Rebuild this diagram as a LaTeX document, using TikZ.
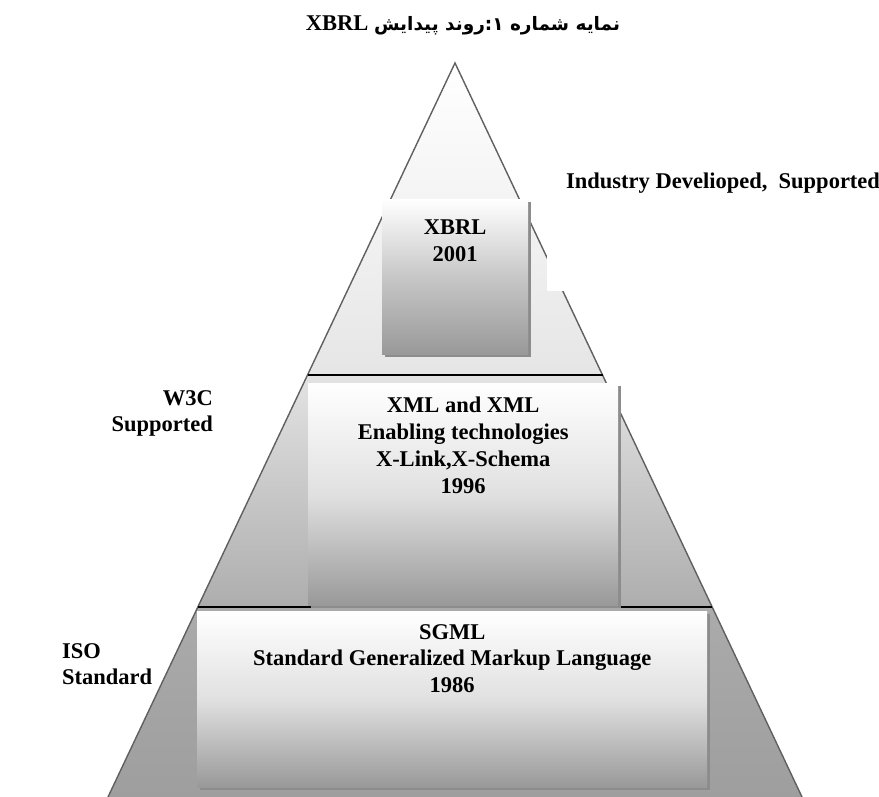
\documentclass[tikz,border=0pt]{standalone}
\usepackage{fontspec}
\setmainfont{Liberation Serif}
\newfontfamily\arabicfont[Script=Arabic]{DejaVu Sans}
\TeXXeTstate=1
\usetikzlibrary{shadows}
\definecolor{edgegray}{HTML}{606060}
\definecolor{shadowgray}{HTML}{8C8C8C}
\tikzset{
  lbl/.style={inner sep=0pt, font=\fontsize{22.5}{26.8}\selectfont\bfseries},
  edge/.style={draw=edgegray, line width=1.4pt, line join=miter},
  rule/.style={draw=black, line width=1.5pt},
  panel/.style={draw=none, inner sep=0pt, anchor=north west,
    top color=white, bottom color=black!40, middle color=black!12,
    drop shadow={shadow xshift=3pt, shadow yshift=-3pt, fill=shadowgray, opacity=1}},
  smallpanel/.style={panel, middle color=black!22},
}
\begin{document}
\begin{tikzpicture}[x=1pt, y=-1pt]
\useasboundingbox (0,0) rectangle (879,797);

% pyramid corners
\coordinate (apex) at (455,63);
\coordinate (l1) at (307.5,375);
\coordinate (r1) at (602.5,375);
\coordinate (l2) at (197.8,607);
\coordinate (r2) at (712.2,607);
\coordinate (l3) at (108,797);
\coordinate (r3) at (802,797);

% three shaded bands of the pyramid
\fill[top color=white, bottom color=black!10] (apex) -- (l1) -- (r1) -- cycle;
\fill[top color=black!11, bottom color=black!32] (l1) -- (l2) -- (r2) -- (r1) -- cycle;
\fill[top color=black!33, bottom color=black!38] (l2) -- (l3) -- (r3) -- (r2) -- cycle;

% outline and band separators
\draw[edge] (l3) -- (apex) -- (r3);
\draw[rule] (l1) -- (r1);
\draw[rule] (l2) -- (r2);

% white label area on the right
\fill[white] (547,205) rectangle (879,291);

% panels
\node[smallpanel, minimum width=146pt, minimum height=155pt] (xbrlbox) at (382,199) {};
\node[panel, minimum width=310pt, minimum height=222pt] (xmlbox) at (308,383) {};
\node[panel, minimum width=510pt, minimum height=176pt] (sgmlbox) at (197,611) {};

% panel texts
\node[lbl, align=center, anchor=north] (xbrltxt) at (xbrlbox.north |- 0,220) {XBRL\\2001};
\node[lbl, align=center, anchor=north] (xmltxt) at (xmlbox.north |- 0,397)
  {XML and XML\\Enabling technologies\\X-Link,X-Schema\\1996};
\node[lbl, align=center, anchor=north] (sgmltxt) at (sgmlbox.north |- 0,624)
  {SGML\\Standard Generalized Markup Language\\1986};

% side labels
\node[lbl, anchor=north west] (industry) at (566,173) {Industry Develioped,\ \ Supported};
\node[lbl, align=right, anchor=north east] (w3c) at (213,390) {W3C\\Supported};
\node[lbl, align=left, anchor=north west] (iso) at (62,643) {ISO\\Standard};

% heading, right to left with the Latin acronym at its end
\node[lbl] (title) at (463,25) {\beginR{\arabicfont\fontsize{18.5}{22}\selectfont\bfseries
  نمایه شماره ۱:روند پیدایش} \beginL XBRL\endL\endR};
\end{tikzpicture}
\end{document}
